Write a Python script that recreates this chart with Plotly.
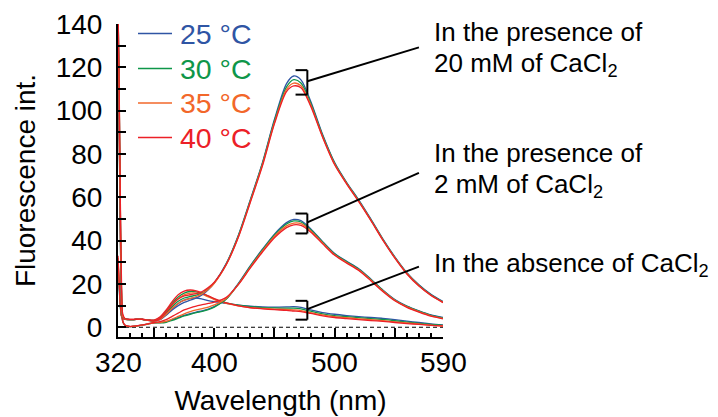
import plotly.graph_objects as go

# ---------------- data ----------------
wavelength = [320, 321, 322, 323, 324, 326, 330, 335, 340, 345, 350, 355, 360, 365, 370,
              375, 380, 385, 390, 395, 400, 410, 420, 430, 440, 450, 460, 466, 472, 480,
              490, 500, 510, 520, 530, 540, 550, 560, 570, 580, 590]

temperatures = ["25 °C", "30 °C", "35 °C", "40 °C"]
colors = ["#2F55A4", "#0E9649", "#F2672A", "#EC2027"]

# In the absence of CaCl2
absent_25 = [30, 18, 9, 5, 4, 3.7, 3.5, 3.6, 3.6, 3.3, 3.2, 4.0, 6.0, 8.5, 11, 12.5, 13.3, 13.5, 13.0, 12.3, 11.8,
             11, 10.2, 9.7, 9.4, 9.3, 9.4, 9.5, 9.2, 8.0, 6.8, 6.0, 5.4, 4.9, 4.5, 4.1, 3.5, 2.8, 2.2, 1.6, 1.1]
absent_30 = [31, 19, 9, 5, 4, 3.7, 3.5, 3.6, 3.6, 3.3, 3.2, 4.5, 7.5, 11, 14, 15.8, 16.5, 16.3, 15.5, 14.3, 13,
             11.3, 10.2, 9.5, 9.1, 8.9, 8.8, 8.8, 8.5, 7.4, 6.2, 5.4, 4.9, 4.4, 4.0, 3.6, 3.0, 2.4, 1.8, 1.3, 0.9]
absent_35 = [32, 20, 10, 5, 4, 3.7, 3.5, 3.6, 3.6, 3.3, 3.2, 4.3, 7.0, 10.3, 13.2, 15.0, 15.8, 15.8, 15.2, 14.0, 12.8,
             11.0, 9.9, 9.1, 8.7, 8.4, 8.2, 8.0, 7.7, 6.8, 5.7, 4.9, 4.4, 3.9, 3.5, 3.1, 2.5, 2.0, 1.5, 1.0, 0.7]
absent_40 = [33, 21, 10, 5, 4, 3.8, 3.6, 3.7, 3.7, 3.4, 3.3, 4.8, 8.0, 11.8, 15.0, 16.7, 17.2, 16.8, 15.8, 14.5, 13.2,
             11.2, 9.9, 9.0, 8.5, 8.1, 7.8, 7.5, 7.2, 6.4, 5.3, 4.5, 4.0, 3.5, 3.1, 2.7, 2.2, 1.7, 1.3, 0.9, 0.5]

# In the presence of 2 mM CaCl2
mm2_25 = [145, 92, 40, 10, 2.5, 0.8, 0.3, 0.5, 1.0, 1.5, 2.0, 2.2, 2.6, 3.5, 4.5, 5.5, 6.3, 7.0, 7.6, 8.4, 9.5,
          13.2, 20.3, 28.5, 36, 43, 48.3, 49.8, 49.2, 45.5, 39.5, 34.0, 30.4, 27.0, 22.3, 17.2, 12.8, 9.8, 7.6, 5.7, 4.5]
mm2_30 = [145, 92, 40, 10, 2.5, 0.8, 0.3, 0.5, 1.0, 1.5, 2.0, 2.0, 2.3, 3.2, 4.2, 5.2, 6.0, 6.7, 7.3, 8.1, 9.3,
          13.0, 20.0, 28.2, 35.7, 42.6, 47.7, 49.1, 48.6, 45.1, 39.3, 33.8, 30.2, 26.8, 22.1, 17.0, 12.6, 9.6, 7.4, 5.5, 4.3]
mm2_35 = [145, 94, 42, 11, 2.6, 0.8, 0.3, 0.5, 1.0, 1.5, 2.0, 2.2, 2.7, 3.8, 5.0, 6.2, 7.2, 8.0, 8.6, 9.3, 10.3,
          13.3, 19.8, 27.8, 35.2, 42.0, 46.8, 48.1, 47.8, 44.6, 38.9, 33.5, 29.9, 26.5, 21.8, 16.8, 12.4, 9.4, 7.2, 5.3, 4.1]
mm2_40 = [145, 96, 44, 12, 2.8, 0.9, 0.4, 0.6, 1.1, 1.6, 2.2, 2.6, 3.5, 5.0, 6.5, 8.0, 9.0, 9.8, 10.4, 11.0, 11.6,
          13.8, 19.7, 27.4, 34.7, 41.3, 46.0, 47.3, 47.0, 44.0, 38.5, 33.2, 29.6, 26.2, 21.5, 16.5, 12.2, 9.2, 7.0, 5.1, 3.9]

# In the presence of 20 mM CaCl2
mm20_25 = [150, 105, 50, 15, 5, 3.8, 3.5, 3.6, 3.6, 3.2, 2.8, 3.5, 5.5, 8.0, 10.0, 11.5, 12.5, 13.5, 15.0, 17.3, 20.5,
           29.5, 42.5, 59, 76, 96, 112.5, 116.0, 114.2, 104.5, 89.0, 76.0, 66.8, 58.8, 50.0, 40.8, 32.5, 25.2, 19.6, 15.2, 11.9]
mm20_30 = [150, 106, 52, 16, 5, 3.8, 3.5, 3.6, 3.6, 3.2, 2.8, 3.8, 6.5, 9.5, 12.0, 13.5, 14.2, 14.8, 15.8, 17.8, 20.5,
           29.3, 42.2, 58.6, 75.6, 95.3, 111.0, 114.3, 112.8, 103.6, 88.5, 75.7, 66.6, 58.5, 49.7, 40.6, 32.3, 25.0, 19.4, 15.0, 11.7]
mm20_35 = [150, 107, 53, 16, 5, 3.8, 3.5, 3.6, 3.6, 3.2, 2.8, 3.6, 6.0, 8.8, 11.0, 12.5, 13.3, 14.2, 15.5, 17.5, 20.3,
           29.0, 41.8, 58.2, 75.0, 94.5, 109.8, 112.7, 111.5, 102.8, 88.0, 75.3, 66.3, 58.2, 49.5, 40.4, 32.1, 24.8, 19.2, 14.8, 11.5]
mm20_40 = [150, 110, 56, 18, 6, 3.9, 3.6, 3.7, 3.7, 3.3, 2.9, 4.0, 7.0, 10.5, 13.0, 14.5, 15.0, 15.5, 16.5, 18.3, 20.8,
           29.0, 41.5, 57.8, 74.5, 94.0, 108.8, 111.4, 110.6, 102.2, 87.7, 75.0, 66.1, 58.0, 49.3, 40.2, 31.9, 24.6, 19.0, 14.7, 11.4]

y_ticks = [0, 20, 40, 60, 80, 100, 120, 140]
x_tick_labels = [320, 400, 500, 590]
x_major_ticks = [350, 400, 450, 500, 550]
x_minor_ticks = list(range(320, 591, 10))

group_labels = [
    ["In the presence of", "20 mM of CaCl<sub>2</sub>"],
    ["In the presence of", "2 mM of CaCl<sub>2</sub>"],
    ["In the absence of CaCl<sub>2</sub>"],
]
# ---------------------------------------

FONT = "Liberation Sans, Arial, Helvetica, sans-serif"

groups = [
    [mm20_25, mm20_30, mm20_35, mm20_40],
    [mm2_25, mm2_30, mm2_35, mm2_40],
    [absent_25, absent_30, absent_35, absent_40],
]

W, H = 718, 417
ML, MR, MT, MB = 118, 275, 24, 80
pw, ph = W - ML - MR, H - MT - MB


def px_x(p):
    return (p - ML) / pw


def px_y(p):
    return (H - MB - p) / ph


fig = go.Figure()

for gi in [2, 1, 0]:
    for ti, series in enumerate(groups[gi]):
        fig.add_trace(go.Scatter(
            x=wavelength, y=series, mode="lines",
            line=dict(color=colors[ti], width=1.3, shape="spline", smoothing=0.8),
            name=temperatures[ti], showlegend=False, hoverinfo="skip",
        ))

shapes = []
annotations = []

# dashed zero line
shapes.append(dict(type="line", xref="x", yref="y", x0=wavelength[0], x1=wavelength[-1], y0=0, y1=0,
                   line=dict(color="black", width=1, dash="4px,3px"), layer="below"))

# x tick labels placed on the x scale
for v in x_tick_labels:
    annotations.append(dict(text=str(v), xref="x", yref="paper", x=v, y=px_y(362),
                            xanchor="center", yanchor="middle", showarrow=False,
                            font=dict(family=FONT, size=28, color="black")))

# manual legend
legend_rows_px = [33.5, 68.5, 103, 137.5]
for ti, name in enumerate(temperatures):
    yy = px_y(legend_rows_px[ti])
    shapes.append(dict(type="line", xref="paper", yref="paper", x0=px_x(138), x1=px_x(172), y0=yy, y1=yy,
                       line=dict(color=colors[ti], width=1.6)))
    annotations.append(dict(text=name, xref="paper", yref="paper", x=px_x(178), y=yy,
                            xanchor="left", yanchor="middle", showarrow=False,
                            font=dict(family=FONT, size=28.5, color=colors[ti])))

# brackets + leader lines, derived from the peak values
peak_idx = wavelength.index(466)
bracket_x = 477.3
arm = 9.8
leader_end_x = 570
leader_end_y = [129.2, 71.3, 28.0]
for gi, grp in enumerate(groups):
    peaks = [s[peak_idx] for s in grp]
    top = max(peaks) + 2.7
    bot = min(peaks) - 4.0
    mid = (top + bot) / 2 + 0.5
    lw = dict(color="black", width=2)
    shapes.append(dict(type="line", xref="x", yref="y", x0=bracket_x, x1=bracket_x, y0=bot, y1=top, line=lw))
    shapes.append(dict(type="line", xref="x", yref="y", x0=bracket_x - arm, x1=bracket_x, y0=top, y1=top, line=lw))
    shapes.append(dict(type="line", xref="x", yref="y", x0=bracket_x - arm, x1=bracket_x, y0=bot, y1=bot, line=lw))
    shapes.append(dict(type="line", xref="x", yref="y", x0=bracket_x, x1=leader_end_x, y0=mid,
                       y1=leader_end_y[gi], line=lw))

text_rows_px = [[32.5, 64], [153, 185], [264.5]]
for gi, lines in enumerate(group_labels):
    for li, txt in enumerate(lines):
        annotations.append(dict(
            text=txt, xref="paper", yref="paper",
            x=px_x(432), y=px_y(text_rows_px[gi][li]),
            xanchor="left", yanchor="middle", showarrow=False,
            font=dict(family=FONT, size=26, color="black"),
        ))

fig.update_layout(
    width=W, height=H, autosize=False,
    margin=dict(l=ML, r=MR, t=MT, b=MB, pad=0, autoexpand=False),
    plot_bgcolor="white", paper_bgcolor="white",
    font=dict(family=FONT, size=28, color="black"),
    showlegend=False,
    shapes=shapes,
    annotations=annotations,
    xaxis=dict(
        range=[320, 590], showline=True, linecolor="black", linewidth=2, automargin=False,
        ticks="inside", tickvals=x_major_ticks, ticklen=9, tickwidth=2, tickcolor="black",
        showticklabels=False, showgrid=False, zeroline=False,
        minor=dict(tickvals=x_minor_ticks, ticks="inside", ticklen=4, tickwidth=1.5,
                   tickcolor="black", showgrid=False),
        title=dict(text="Wavelength (nm)", font=dict(family=FONT, size=28), standoff=52),
    ),
    yaxis=dict(
        range=[-4.5, 140], showline=True, linecolor="black", linewidth=2, automargin=False,
        ticks="inside", tickvals=y_ticks, ticklen=8, tickwidth=2, tickcolor="black",
        showgrid=False, zeroline=False, tickfont=dict(family=FONT, size=28),
        ticklabelstandoff=8,
        minor=dict(dtick=10, tick0=0, ticks="inside", ticklen=8, tickwidth=2,
                   tickcolor="black", showgrid=False),
        title=dict(text="Fluorescence int.", font=dict(family=FONT, size=28), standoff=12),
    ),
)

fig.write_html("out.html")
